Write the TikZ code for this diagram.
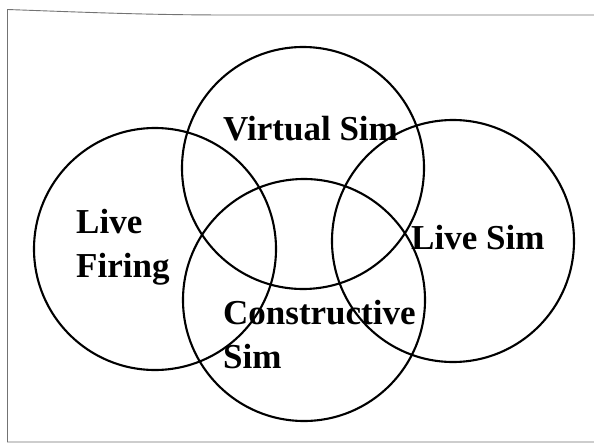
\documentclass[tikz,border=0pt]{standalone}
\usepackage{fontspec}
\setmainfont{Liberation Serif}
\usepackage{xcolor}
\colorlet{myframe}{black!55}

\begin{document}
\begin{tikzpicture}[x=1pt, y=-1pt,
    setcircle/.style={draw=black, line width=2.1pt, circle, minimum size=242pt, inner sep=0pt},
    setlabel/.style={font=\fontsize{35}{44}\selectfont\bfseries, inner sep=0pt, align=left}]

    % ===== CANVAS =====
    \fill[white] (0,0) rectangle (594,444);
    \useasboundingbox (0,0) rectangle (594,444);
    \draw[myframe, line width=0.9pt] (596,15) -- (230,15) .. controls (150,15) and (90,12.5) .. (7.5,9.5)
        -- (7.5,442) -- (596,442);

    % ===== SETS =====
    \node[setcircle] (virtual)      at (303,168) {};
    \node[setcircle] (firing)       at (155,249) {};
    \node[setcircle] (livesim)      at (453,241) {};
    \node[setcircle] (constructive) at (304,300) {};

    % ===== LABELS =====
    % (base anchor sits on the last line)
    \node[setlabel, anchor=base west] (virtuallabel)      at (223,140) {Virtual Sim};
    \node[setlabel, anchor=base west] (firinglabel)       at (76,277)  {Live\\Firing};
    \node[setlabel, anchor=base west] (livesimlabel)      at (411,249) {Live Sim};
    \node[setlabel, anchor=base west] (constructivelabel) at (223,368) {Constructive\\Sim};

\end{tikzpicture}
\end{document}
